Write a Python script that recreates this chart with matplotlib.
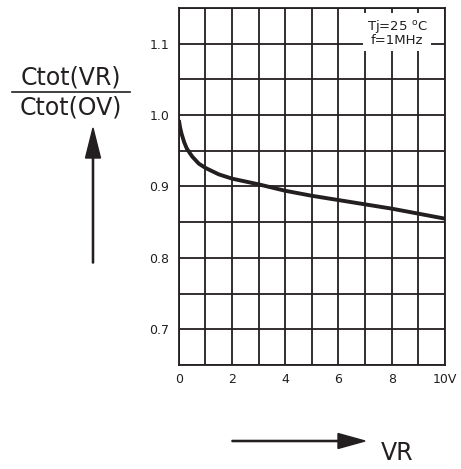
import numpy as np
import matplotlib
matplotlib.use("Agg")
import matplotlib.pyplot as plt

# values
vr = [0, 0.05, 0.1, 0.2, 0.3, 0.5, 0.75, 1, 1.5, 2, 2.5, 3, 4, 5, 6, 7, 8, 9, 10]
ratio = [0.993, 0.982, 0.974, 0.962, 0.953, 0.942, 0.932, 0.926, 0.917, 0.911,
         0.907, 0.903, 0.894, 0.887, 0.881, 0.875, 0.869, 0.862, 0.855]

xticks = [0, 2, 4, 6, 8, 10]
xticklabels = ['0', '2', '4', '6', '8', '10V']
yticks = [0.7, 0.8, 0.9, 1.0, 1.1]
yticklabels = ['0.7', '0.8', '0.9', '1.0', '1.1']

ink = '#231f20'
plt.rcParams['font.family'] = ['DejaVu Sans']

fig = plt.figure(figsize=(4.61, 4.69), dpi=100)
ax = fig.add_axes([0.388, 0.2217, 0.577, 0.7613])

ax.plot(vr, ratio, color=ink, lw=2.8, solid_capstyle='butt', zorder=3)

ax.set_xlim(0, 10)
ax.set_ylim(0.65, 1.15)
ax.set_xticks(np.arange(0, 11, 1), minor=True)
ax.set_yticks(np.arange(0.65, 1.151, 0.05), minor=True)
ax.set_xticks(xticks)
ax.set_xticklabels(xticklabels)
ax.set_yticks(yticks)
ax.set_yticklabels(yticklabels)
ax.grid(which='both', color=ink, lw=1.3)
ax.tick_params(which='both', length=0, labelsize=9, colors=ink)
ax.tick_params(axis='y', pad=7)
ax.tick_params(axis='x', pad=6)
for s in ax.spines.values():
    s.set_color(ink)
    s.set_linewidth(1.3)
    s.set_zorder(4)

ax.text(0.82, 0.972, 'Tj=25 $^{\\rm o}$C\nf=1MHz', transform=ax.transAxes,
        ha='center', va='top', fontsize=9.5, color=ink, linespacing=0.95,
        bbox=dict(facecolor='white', edgecolor='none', pad=2.5), zorder=2)

# left label: fraction with arrow
fig.text(71 / 461, 1 - 78 / 469, 'Ctot(VR)', ha='center', va='center',
         fontsize=17, color=ink)
fig.text(71 / 461, 1 - 108 / 469, 'Ctot(OV)', ha='center', va='center',
         fontsize=17, color=ink)
fig.add_artist(plt.Line2D([12 / 461, 130 / 461], [1 - 92 / 469, 1 - 92 / 469],
                          color=ink, lw=1.2))
fig.add_artist(matplotlib.patches.FancyArrow(
    93 / 461, 1 - 263 / 469, 0, (263 - 128) / 469, width=1.2 / 469,
    head_width=15 / 461, head_length=30 / 469, length_includes_head=True,
    color=ink, transform=fig.transFigure))

# bottom label
fig.add_artist(matplotlib.patches.FancyArrow(
    232 / 461, 1 - 441 / 469, (365 - 232) / 461, 0, width=1.2 / 469,
    head_width=15 / 469, head_length=27 / 461, length_includes_head=True,
    color=ink, transform=fig.transFigure))
fig.text(381 / 461, 1 - 453 / 469, 'VR', ha='left', va='center',
         fontsize=17, color=ink)

fig.savefig('out.png', dpi=100)
